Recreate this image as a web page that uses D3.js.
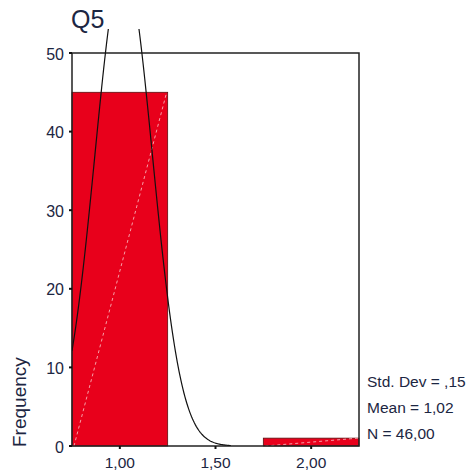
<!DOCTYPE html>
<html>
<head>
<meta charset="utf-8">
<script src="https://cdn.jsdelivr.net/npm/d3@7"></script>
<style>
  body { margin: 0; background: #fff; }
  text { font-family: Arial, "Liberation Sans", sans-serif; }
</style>
</head>
<body>
<svg id="chart" width="472" height="474"></svg>
<script>
// histogram bins (lower edge, upper edge) and counts
var binStarts = [0.75, 1.25, 1.75];
var binEnds = [1.25, 1.75, 2.25];
var counts = [45, 0, 1];

var yTicks = [0, 10, 20, 30, 40, 50];
var xTicks = [1.0, 1.5, 2.0];

// summary stats shown in the legend, used for the normal curve
var stdDev = 0.15;
var mean = 1.02;
var n = 46;
var statLabels = ['Std. Dev = ,15', 'Mean = 1,02', 'N = 46,00'];

(function () {
  'use strict';

  var svg = d3.select('#chart'),
    plot = {left: 72, right: 359, top: 53, bottom: 446};

  var x = d3.scaleLinear().domain([0.75, 2.25]).range([plot.left, plot.right]);
  var y = d3.scaleLinear().domain([0, 50]).range([plot.bottom, plot.top]);

  var fmt = function (d) { return d3.format('.2f')(d).replace('.', ','); };
  var ink = '#1c2642';

  // bars
  var bins = counts.map(function (c, i) {
    return {x0: binStarts[i], x1: binEnds[i], count: c};
  }).filter(function (b) { return b.count > 0; });

  svg.selectAll('rect.bar').data(bins).enter().append('rect')
    .attr('class', 'bar')
    .attr('x', function (d) { return x(d.x0); })
    .attr('y', function (d) { return y(d.count); })
    .attr('width', function (d) { return x(d.x1) - x(d.x0); })
    .attr('height', function (d) { return y(0) - y(d.count); })
    .attr('fill', '#e8001b')
    .attr('stroke', '#5a1010')
    .attr('stroke-width', 0.8);

  // faint dashed diagonal inside each bar (artifact in the original)
  svg.selectAll('line.diag').data(bins).enter().append('line')
    .attr('class', 'diag')
    .attr('x1', function (d) { return x(d.x0) + 2; })
    .attr('y1', y(0))
    .attr('x2', function (d) { return x(d.x1) - 1; })
    .attr('y2', function (d) { return y(d.count); })
    .attr('stroke', '#f7a0a8')
    .attr('stroke-width', 1)
    .attr('stroke-dasharray', '3,3');

  // frame
  svg.append('rect')
    .attr('x', plot.left).attr('y', plot.top)
    .attr('width', plot.right - plot.left).attr('height', plot.bottom - plot.top)
    .attr('fill', 'none').attr('stroke', '#222').attr('stroke-width', 1.5);

  // normal curve, clipped a little above the frame
  svg.append('clipPath').attr('id', 'clip')
    .append('rect').attr('x', plot.left).attr('y', 29)
    .attr('width', plot.right - plot.left).attr('height', plot.bottom - 29);

  var binWidth = binEnds[0] - binStarts[0];
  var xs = d3.range(0.75, 1.5801, 0.005);
  var line = d3.line()
    .x(function (d) { return x(d); })
    .y(function (d) {
      var z = (d - mean) / stdDev;
      return y(n * binWidth * Math.exp(-z * z / 2) / (stdDev * Math.sqrt(2 * Math.PI)));
    });

  svg.append('path')
    .datum(xs)
    .attr('d', line)
    .attr('fill', 'none')
    .attr('stroke', '#111')
    .attr('stroke-width', 1.2)
    .attr('clip-path', 'url(#clip)');

  // y axis ticks and labels
  var yg = svg.append('g');
  yg.selectAll('line').data(yTicks).enter().append('line')
    .attr('x1', plot.left - 3).attr('x2', plot.left)
    .attr('y1', function (d) { return y(d); }).attr('y2', function (d) { return y(d); })
    .attr('stroke', '#111').attr('stroke-width', 2);
  yg.selectAll('text').data(yTicks).enter().append('text')
    .attr('x', plot.left - 8)
    .attr('y', function (d) { return y(d) + 6.5; })
    .attr('text-anchor', 'end')
    .attr('font-size', 16)
    .attr('fill', ink)
    .text(function (d) { return d; });

  // x axis ticks and labels
  var xg = svg.append('g');
  xg.selectAll('line').data(xTicks).enter().append('line')
    .attr('x1', function (d) { return x(d); }).attr('x2', function (d) { return x(d); })
    .attr('y1', plot.bottom).attr('y2', plot.bottom + 3)
    .attr('stroke', '#111').attr('stroke-width', 2);
  xg.selectAll('text').data(xTicks).enter().append('text')
    .attr('x', function (d) { return x(d); })
    .attr('y', 468)
    .attr('text-anchor', 'middle')
    .attr('font-size', 15.5)
    .attr('fill', ink)
    .text(fmt);

  // title
  svg.append('text')
    .attr('x', 71).attr('y', 28)
    .attr('font-size', 25)
    .attr('fill', ink)
    .text('Q5');

  // y axis title
  svg.append('text')
    .attr('transform', 'translate(26,447) rotate(-90)')
    .attr('text-anchor', 'start')
    .attr('font-size', 19)
    .attr('fill', ink)
    .text('Frequency');

  // stats
  svg.selectAll('text.stat').data(statLabels).enter().append('text')
    .attr('class', 'stat')
    .attr('x', 367)
    .attr('y', function (d, i) { return 387 + i * 26; })
    .attr('font-size', 15.5)
    .attr('fill', ink)
    .text(function (d) { return d; });
}());
</script>
</body>
</html>
